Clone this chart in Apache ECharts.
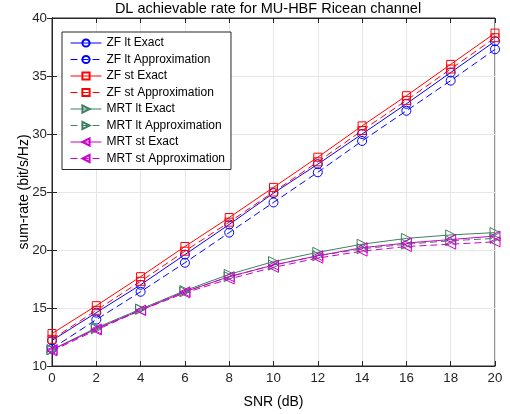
<!DOCTYPE html>
<html>
<head>
<meta charset="utf-8">
<script src="https://cdn.jsdelivr.net/npm/echarts@6/dist/echarts.min.js"></script>
<style>
  html, body { margin: 0; padding: 0; background: #fff; }
  #chart { width: 510px; height: 414px; }
</style>
</head>
<body>
<div id="chart"></div>
<script>
const snr = [0, 2, 4, 6, 8, 10, 12, 14, 16, 18, 20]

const zfLtExact  = [12.2, 14.6, 17.0, 19.6, 22.2, 24.9, 27.4, 30.0, 32.6, 35.3, 38.0]
const zfLtApprox = [11.5, 14.0, 16.4, 18.9, 21.5, 24.1, 26.7, 29.4, 32.0, 34.6, 37.3]
const zfStExact  = [12.8, 15.2, 17.7, 20.3, 22.8, 25.4, 28.0, 30.7, 33.3, 36.0, 38.7]
const zfStApprox = [12.3, 14.8, 17.3, 19.9, 22.4, 25.0, 27.6, 30.3, 32.9, 35.6, 38.3]
const mrtLtExact  = [11.4, 13.3, 14.9, 16.5, 17.9, 19.0, 19.8, 20.5, 21.0, 21.3, 21.5]
const mrtLtApprox = [11.4, 13.2, 14.9, 16.4, 17.7, 18.7, 19.5, 20.1, 20.5, 20.8, 21.0]
const mrtStExact  = [11.4, 13.2, 14.8, 16.4, 17.7, 18.7, 19.5, 20.2, 20.6, 20.9, 21.2]
const mrtStApprox = [11.3, 13.1, 14.8, 16.3, 17.5, 18.5, 19.3, 19.9, 20.3, 20.5, 20.7]

const triRight = 'path://M0,0 L10,5 L0,10 Z'
const triLeft = 'path://M10,0 L0,5 L10,10 Z'

function mk(name, data, color, symbol, dashed, size) {
  return {
    name,
    type: 'line',
    data: snr.map((x, i) => [x, data[i]]),
    symbol,
    symbolSize: size,
    showAllSymbol: true,
    lineStyle: { color, width: 1, type: dashed ? [7, 4] : 'solid' },
    itemStyle: { color: 'rgba(0,0,0,0)', borderColor: color, borderWidth: 1 },
    emphasis: { disabled: true },
    z: 3
  }
}

const series = [
  mk('ZF lt Exact', zfLtExact, '#0000ff', 'circle', false, 9),
  mk('ZF lt Approximation', zfLtApprox, '#0000ff', 'circle', true, 9),
  mk('ZF st Exact', zfStExact, '#ff0000', 'rect', false, 8),
  mk('ZF st Approximation', zfStApprox, '#ff0000', 'rect', true, 8),
  mk('MRT lt Exact', mrtLtExact, '#3f7f5f', triRight, false, 10),
  mk('MRT lt Approximation', mrtLtApprox, '#3f7f5f', triRight, true, 10),
  mk('MRT st Exact', mrtStExact, '#cc00cc', triLeft, false, 10),
  mk('MRT st Approximation', mrtStApprox, '#cc00cc', triLeft, true, 10)
]

const font = 'Liberation Sans, Arial, sans-serif'
const axisCol = '#262626'

let myChart = echarts.init(document.getElementById('chart'))
myChart.setOption({
  animation: false,
  title: {
    text: 'DL achievable rate for MU-HBF Ricean channel',
    left: 268, top: 1, padding: 0, textAlign: 'center',
    textStyle: { fontFamily: font, fontSize: 14.5, fontWeight: 'normal', color: '#000' }
  },
  legend: {
    orient: 'vertical',
    left: 62, top: 32,
    itemWidth: 31, itemHeight: 9, itemGap: 4.5,
    padding: [5, 6, 5, 8],
    backgroundColor: '#fff',
    borderColor: '#262626', borderWidth: 1,
    lineStyle: { width: 1 },
    textStyle: { fontFamily: font, fontSize: 12, color: '#000' },
    data: series.map(s => s.name)
  },
  grid: {
    left: 52, right: 15, top: 18, bottom: 48,
    outerBoundsMode: 'none', containLabel: false,
    show: true, borderColor: axisCol, borderWidth: 1
  },
  xAxis: [{
    type: 'value', min: 0, max: 20, interval: 2,
    name: 'SNR (dB)', nameLocation: 'middle', nameGap: 29, nameMoveOverlap: false,
    nameTextStyle: { fontFamily: font, fontSize: 14, color: '#000' },
    axisLine: { lineStyle: { color: axisCol } },
    axisTick: { inside: true, length: 5, lineStyle: { color: axisCol } },
    axisLabel: { fontFamily: font, fontSize: 13.3, color: axisCol, margin: 6 },
    splitLine: { lineStyle: { color: '#e6e6e6' } }
  }, {
    type: 'value', position: 'top', min: 0, max: 20, interval: 2,
    axisLine: { show: true, lineStyle: { color: axisCol } },
    axisTick: { inside: true, length: 5, lineStyle: { color: axisCol } },
    axisLabel: { show: false }, splitLine: { show: false }
  }],
  yAxis: [{
    type: 'value', min: 10, max: 40, interval: 5,
    name: 'sum-rate (bit/s/Hz)', nameLocation: 'middle', nameGap: 21, nameMoveOverlap: false,
    nameTextStyle: { fontFamily: font, fontSize: 14, color: '#000' },
    axisLine: { show: true, lineStyle: { color: axisCol } },
    axisTick: { show: true, inside: true, length: 5, lineStyle: { color: axisCol } },
    axisLabel: { fontFamily: font, fontSize: 13.3, color: axisCol, margin: 5 },
    splitLine: { lineStyle: { color: '#e6e6e6' } }
  }, {
    type: 'value', position: 'right', min: 10, max: 40, interval: 5,
    axisLine: { show: true, lineStyle: { color: axisCol } },
    axisTick: { show: true, inside: true, length: 5, lineStyle: { color: axisCol } },
    axisLabel: { show: false }, splitLine: { show: false }
  }],
  series
})
</script>
</body>
</html>
